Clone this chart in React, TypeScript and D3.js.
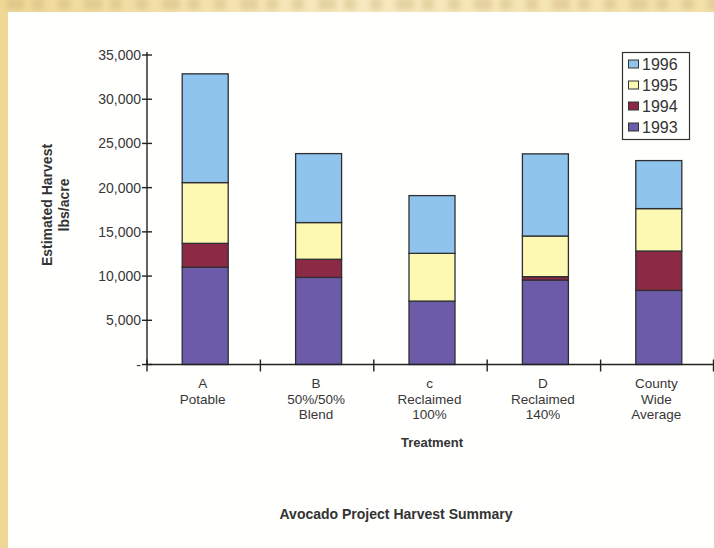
import React from 'react';
import * as d3 from 'd3';

// harvest estimates, lbs/acre
const treatments = [
  ['A', 'Potable'],
  ['B', '50%/50%', 'Blend'],
  ['c', 'Reclaimed', '100%'],
  ['D', 'Reclaimed', '140%'],
  ['County', 'Wide', 'Average'],
];
const years = ['1993', '1994', '1995', '1996'];
const harvest1993 = [11000, 9850, 7170, 9550, 8380];
const harvest1994 = [2700, 2050, 0, 380, 4450];
const harvest1995 = [6870, 4150, 5400, 4600, 4800];
const harvest1996 = [12300, 7800, 6530, 9290, 5430];
const yTicks = [0, 5000, 10000, 15000, 20000, 25000, 30000, 35000];

const colors = ['#6b5ba8', '#8c2a45', '#fdf9b2', '#8fc4ec'];

const App = () => {
  const width = 714;
  const height = 548;
  const x0 = 147;
  const x1 = 714;
  const yBase = 364.5;
  const yTop = 55;

  const rows = treatments.map((t, i) => ({
    key: t[0],
    '1993': harvest1993[i],
    '1994': harvest1994[i],
    '1995': harvest1995[i],
    '1996': harvest1996[i],
  }));

  const stack = d3.stack().keys(years);
  const series = stack(rows as any);

  const xScale = d3.scaleBand()
    .domain(treatments.map(t => t[0]))
    .range([x0, x1])
    .paddingInner(0)
    .paddingOuter(0);

  const yScale = d3.scaleLinear().domain([0, 35000]).range([yBase, yTop]);
  const barW = 46;
  const fmt = d3.format(',');
  const font = 'Liberation Sans, Arial, Helvetica, sans-serif';

  // faded smudges along the top edge (scan of the slide above)
  const smudges = d3.range(0, width, 26);

  return (
    <svg width={width} height={height} style={{ position: 'absolute', left: 0, top: 0 }} fontFamily={font}>
      <defs>
        <linearGradient id="paper" x1="0" x2="1" y1="0" y2="0">
          <stop offset="0" stopColor="#efd895" />
          <stop offset="0.5" stopColor="#f7e9bf" />
          <stop offset="1" stopColor="#f2e0a8" />
        </linearGradient>
        <filter id="blur"><feGaussianBlur stdDeviation="2.5" /></filter>
      </defs>
      <rect x={0} y={0} width={width} height={height} fill="url(#paper)" />
      <g fill="#c9b27c" opacity={0.4} filter="url(#blur)">
        {smudges.map((s, i) => (
          <rect key={i} x={s + 6} y={-2} width={i % 3 === 0 ? 18 : 12} height={12} rx={4} />
        ))}
      </g>
      <rect x={8} y={12} width={width - 8} height={height - 12} fill="#fffffd" />

      {/* stacked bars */}
      {series.map((s, si) => (
        <g key={years[si]} fill={colors[si]} stroke="#2e2e33" strokeWidth={1.3}>
          {s.map((d, i) => {
            const h = yScale(d[0]) - yScale(d[1]);
            if (h <= 0) return null;
            const cx = xScale(treatments[i][0])! + xScale.bandwidth() / 2 + 1.5;
            return <rect key={i} x={cx - barW / 2} y={yScale(d[1])} width={barW} height={h} />;
          })}
        </g>
      ))}

      {/* y axis */}
      <g stroke="#222" strokeWidth={1.4}>
        <line x1={x0} x2={x0} y1={yTop - 3} y2={yBase} />
        {yTicks.map(t => (
          <line key={t} x1={x0 - 5} x2={x0 + 5} y1={yScale(t)} y2={yScale(t)} />
        ))}
      </g>
      <g fontSize={14} fill="#383838" textAnchor="end">
        {yTicks.map(t => (
          <text key={t} x={x0 - 6} y={yScale(t) + 5}>{t === 0 ? '-' : fmt(t)}</text>
        ))}
      </g>

      {/* x axis */}
      <g stroke="#222" strokeWidth={1.4}>
        <line x1={x0} x2={x1} y1={yBase} y2={yBase} />
        {treatments.map((t, i) => (
          <line key={i} x1={xScale(t[0])!} x2={xScale(t[0])!} y1={yBase - 5} y2={yBase + 7} />
        ))}
        <line x1={x1 - 0.5} x2={x1 - 0.5} y1={yBase - 5} y2={yBase + 7} />
      </g>
      <g fontSize={13.5} fill="#383838" textAnchor="middle">
        {treatments.map((t, i) => (
          <text key={i} x={xScale(t[0])! + xScale.bandwidth() / 2 - 1} y={388}>
            {t.map((line, li) => (
              <tspan key={li} x={xScale(t[0])! + xScale.bandwidth() / 2 - 1} dy={li === 0 ? 0 : 15.5}>{line}</tspan>
            ))}
          </text>
        ))}
      </g>
      <text x={432} y={447} fontSize={13} fontWeight="bold" fill="#333" textAnchor="middle">Treatment</text>

      {/* y title */}
      <g fontSize={14} fontWeight="bold" fill="#333" textAnchor="middle">
        <text transform="translate(52,205) rotate(-90)">Estimated Harvest</text>
        <text transform="translate(69,205) rotate(-90)">lbs/acre</text>
      </g>

      {/* legend */}
      <rect x={622.5} y={52.5} width={67} height={87} fill="none" stroke="#333" strokeWidth={1.2} />
      {years.slice().reverse().map((yr, i) => {
        const ci = years.indexOf(yr);
        const ly = 64 + i * 21;
        return (
          <g key={yr}>
            <rect x={628.5} y={ly - 4} width={10} height={8} fill={colors[ci]} stroke="#333" strokeWidth={1} />
            <text x={642} y={ly + 5.5} fontSize={16} fill="#333">{yr}</text>
          </g>
        );
      })}

      <text x={396} y={519} fontSize={14} fontWeight="bold" fill="#333" textAnchor="middle">Avocado Project Harvest Summary</text>
    </svg>
  );
};

export default App;
